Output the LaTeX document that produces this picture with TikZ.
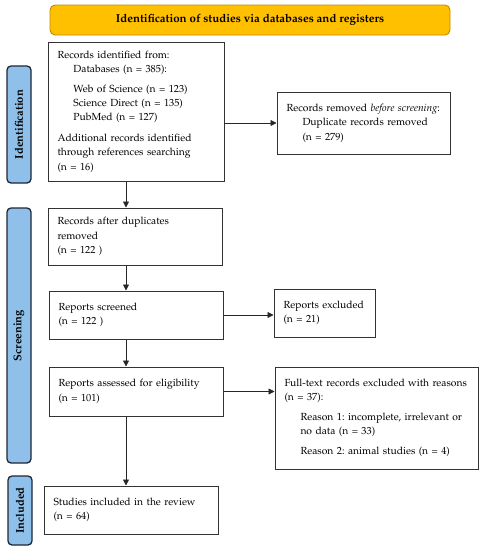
\documentclass[tikz,border=0pt]{standalone}
\usepackage[T1]{fontenc}
\usepackage{mathpazo}
\usetikzlibrary{arrows.meta}
\definecolor{titleyellow}{RGB}{255,192,0}
\definecolor{titleedge}{RGB}{190,140,0}
\definecolor{stageblue}{RGB}{142,192,234}
\definecolor{stageedge}{RGB}{30,38,56}
\newcommand{\ind}{\hspace*{16pt}}
\frenchspacing

\begin{document}
\begin{tikzpicture}[x=1pt,y=-1pt,
		flowbox/.style={draw=black!80, line width=1pt, align=left, inner xsep=9.5pt, inner ysep=0pt,
			font=\fontsize{10.3}{14.4}\selectfont},
		stage/.style={draw=stageedge, fill=stageblue, line width=1.3pt, rounded corners=4pt, rotate=90,
			inner sep=0pt, minimum height=24pt, font=\fontsize{11.2}{12}\selectfont\bfseries},
		flowarrow/.style={draw=black!85, line width=0.8pt, -{Triangle[length=6pt,width=6pt]}}]
	%%%%% START %%%%%
	\useasboundingbox (0,0) rectangle (483,550);
	
	\node[draw=titleedge, fill=titleyellow, line width=0.9pt, rounded corners=5pt, minimum width=400pt, minimum height=30pt,
		font=\fontsize{11.5}{13}\selectfont\bfseries] (title) at (250,20) {Identification of studies via databases and registers};
	
	\node[stage, minimum width=117pt] (identification) at (19,124.5) {Identification};
	\node[stage, minimum width=255pt] (screening) at (19,335.5) {Screening};
	\node[stage, minimum width=69pt] (included) at (20,510.5) {Included};
	
	\node[flowbox, text width=157pt, minimum height=139pt] (identified) at (136,111.5) {Records identified from:\\
		\ind Databases (n = 385):\\[5pt]
		\ind Web of Science (n = 123)\\
		\ind Science Direct (n = 135)\\
		\ind PubMed (n = 127)\\[6pt]
		Additional records identified\\
		through references searching\\
		(n = 16)};
	\node[flowbox, text width=154pt, minimum height=62pt] (removed) at (363.5,123) {Records removed \emph{before screening}:\\
		\ind Duplicate records removed\\
		\ind (n = 279)};
	
	\node[flowbox, text width=155pt, minimum height=57pt] (afterdup) at (135,236.5) {Records after duplicates\\
		removed\\
		(n = 122 )};
	\node[flowbox, text width=155pt, minimum height=48pt] (screened) at (136,315) {Reports screened\\
		(n = 122 )};
	\node[flowbox, text width=82pt, minimum height=48pt] (excluded) at (324.5,313) {Reports excluded\\
		(n = 21)};
	\node[flowbox, text width=155pt, minimum height=49pt] (assessed) at (136,391.5) {Reports assessed for eligibility\\
		(n = 101)};
	\node[flowbox, text width=184pt, minimum height=102pt] (fulltext) at (376.5,418) {Full-text records excluded with reasons\\
		(n = 37):\\[5pt]
		\ind Reason 1: incomplete, irrelevant or\\
		\ind no data (n = 33)\\[6pt]
		\ind Reason 2: animal studies (n = 4)};
	\node[flowbox, text width=155pt, minimum height=48pt] (studies) at (131,510) {Studies included in the review\\
		(n = 64)};
	
	% arrows
	\coordinate (spine) at (126,0);
	\draw[flowarrow] (identified.south -| spine) -- (afterdup.north -| spine);
	\draw[flowarrow] (afterdup.south -| spine) -- (screened.north -| spine);
	\draw[flowarrow] (screened.south -| spine) -- (assessed.north -| spine);
	\draw[flowarrow] (assessed.south -| spine) -- (studies.north -| spine);
	
	\draw[flowarrow] (removed.west -| identified.east) -- (removed.west);
	\draw[flowarrow] (screened.east) -- (screened.east -| excluded.west);
	\draw[flowarrow] (assessed.east) -- (assessed.east -| fulltext.west);
	
	%%%%% END %%%%%
\end{tikzpicture}
\end{document}
